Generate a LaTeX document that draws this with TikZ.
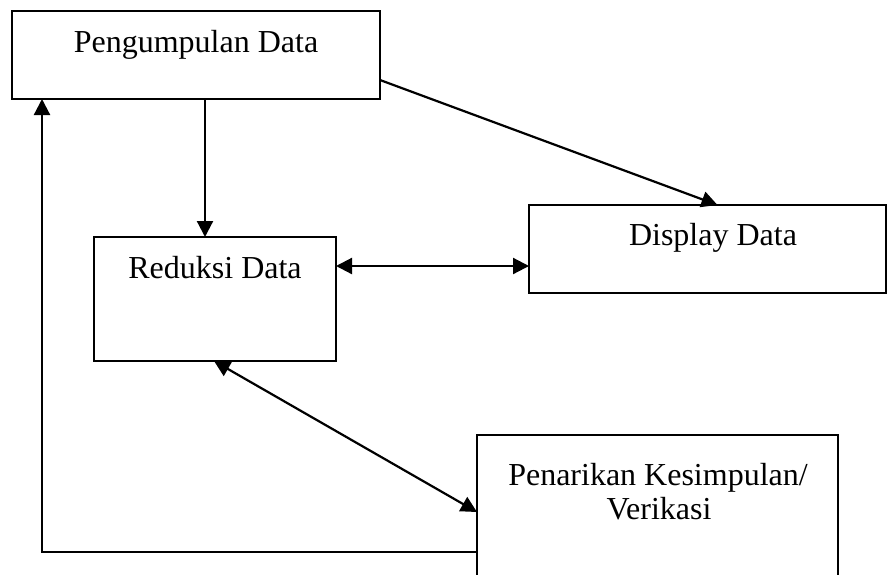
\documentclass[tikz,border=0pt]{standalone}
\usepackage{fontspec}
\setmainfont{Liberation Serif}
\usetikzlibrary{arrows.meta,calc}
\begin{document}
\begin{tikzpicture}[x=1pt,y=-1pt,
  box/.style={draw,line width=1.8pt,rectangle,inner sep=0pt,outer sep=0pt,anchor=north west},
  lbl/.style={anchor=base,inner sep=0pt,font=\fontsize{32}{38}\selectfont},
  arr/.style={line width=2.2pt,-{Triangle[length=16pt,width=16pt]}},
  darr/.style={line width=2.2pt,{Triangle[length=16pt,width=16pt]}-{Triangle[length=16pt,width=16pt]}}]
\useasboundingbox (0,0) rectangle (888,574);
\node[box,minimum width=368pt,minimum height=88pt] (pd) at (12,11) {};
\node[box,minimum width=242pt,minimum height=124pt] (rd) at (94,237) {};
\node[box,minimum width=357pt,minimum height=88pt] (dd) at (529,205) {};
\node[box,minimum width=361pt,minimum height=170pt] (pk) at (477,435) {};
\node[lbl] (tpd) at (196,52) {Pengumpulan Data};
\node[lbl] (trd) at (215,278) {Reduksi Data};
\node[lbl] (tdd) at (713,245) {Display Data};
\node[lbl] (tpk1) at (658,485) {Penarikan Kesimpulan/};
\node[lbl] (tpk2) at (659,519) {Verikasi};
% arrows
\draw[arr] ([xshift=-10pt]rd.north |- pd.south) -- ([xshift=-10pt]rd.north);
\draw[arr] ([yshift=-25pt]pd.east) -- ([xshift=10pt]dd.north);
\draw[darr] ([yshift=33pt]rd.east) -- ([yshift=33pt]rd.east -| dd.west);
\draw[darr] ([xshift=-1pt]rd.south) -- ([yshift=-77pt]pk.north west);
\draw[arr] ([yshift=-117pt]pk.north west) -| ([xshift=30pt]pd.south west);
\end{tikzpicture}
\end{document}
